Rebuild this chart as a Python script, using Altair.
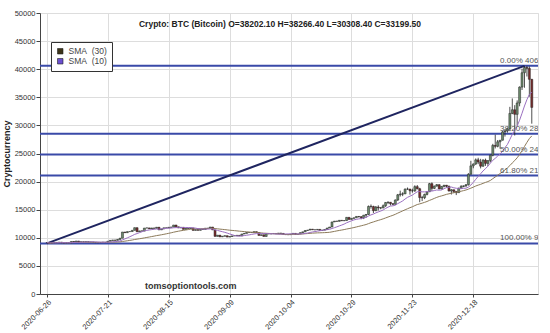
import altair as alt
import pandas as pd

# ---------------- data ----------------
start_date = "2020-06-26"
end_date = "2021-01-11"
first_open = 9140.0

closes = [
    # Jun 26-30
    9150, 9010, 9120, 9180, 9140,
    # Jul
    9230, 9090, 9060, 9130, 9070, 9340, 9250, 9430, 9230, 9290, 9240, 9300, 9240, 9250, 9200, 9130,
    9150, 9170, 9210, 9160, 9390, 9540, 9610, 9550, 9710, 9930, 11030, 10910, 11100, 11110, 11330,
    # Aug
    11800, 11070, 11230, 11190, 11740, 11760, 11600, 11750, 11680, 11880, 11410, 11580, 11780, 11770,
    11870, 11910, 12280, 11960, 11760, 11870, 11500, 11680, 11650, 11750, 11320, 11460, 11330, 11530,
    11480, 11710, 11680,
    # Sep
    11920, 11400, 10250, 10470, 10170, 10280, 10370, 10130, 10230, 10340, 10380, 10440, 10330, 10680,
    10790, 10950, 10940, 10930, 11090, 10920, 10420, 10540, 10240, 10740, 10690, 10730, 10770, 10710,
    10840, 10780,
    # Oct
    10620, 10570, 10550, 10670, 10790, 10600, 10670, 10920, 11060, 11300, 11380, 11540, 11430, 11430,
    11500, 11320, 11360, 11480, 11740, 11920, 12820, 12970, 12930, 13110, 13030, 13070, 13640, 13270,
    13460, 13560, 13800,
    # Nov
    13760, 13550, 14030, 14150, 15590, 15580, 14830, 15480, 15330, 15300, 15700, 16290, 16330, 16070,
    15960, 16730, 17650, 17780, 17820, 18660, 18680, 18370, 18360, 19100, 18730, 17150, 17140, 17720,
    18180, 19630,
    # Dec
    18800, 19200, 19450, 18700, 19150, 19360, 19170, 18320, 18550, 18250, 18030, 18800, 19140, 19250,
    19440, 21310, 22800, 23130, 23870, 23480, 22740, 23820, 23240, 23730, 24710, 26440, 26280, 27080,
    27360, 28840, 29000,
    # Jan 1-11
    29370, 32130, 32780, 31970, 33990, 36820, 39370, 40300, 40150, 38202.1, 33199.5,
]

# highs / lows read from 2020-11-01 onwards (wicks visible at this scale)
late_start = "2020-11-01"
late_high = [
    13860, 13820, 14060, 14230, 15740, 15930, 15700, 15650, 15780, 15450, 15930, 16330, 16480, 16300,
    16120, 16820, 17800, 18390, 18100, 18780, 18950, 18690, 18750, 19350, 19390, 18900, 17460, 17850,
    18280, 19760,
    19860, 19290, 19560, 19500, 19160, 19390, 19400, 19280, 18640, 18560, 18270, 18930, 19380, 19300,
    19540, 21500, 23700, 23230, 24120, 24240, 24050, 23990, 24090, 23810, 24780, 26720, 28350, 27400,
    27370, 28990, 29300,
    29600, 33300, 34800, 33600, 34450, 36940, 40100, 40600, 40600, 40500, 38266.4,
]
late_low = [
    13620, 13290, 13330, 13560, 14090, 15190, 14400, 14740, 14850, 15080, 15280, 15500, 15990, 15750,
    15800, 15870, 16560, 17340, 17410, 17780, 18540, 17680, 18030, 18170, 18620, 16330, 16540, 16880,
    17550, 18180,
    18330, 18660, 19120, 18620, 18600, 18970, 18940, 18260, 17700, 17930, 17600, 18000, 18750, 19000,
    19060, 19300, 21250, 22370, 22970, 23100, 22350, 22650, 22800, 22750, 23440, 24500, 25900, 26100,
    25850, 27330, 28010,
    28700, 28980, 32000, 28200, 30000, 33400, 36300, 36700, 38700, 35100, 30308.4,
]

fib_high = 40600.0
fib_low = 9000.0
fib_ratios = [0.0, 0.382, 0.5, 0.618, 1.0]
fib_label_date = "2020-12-29"

trend_dates = ["2020-06-26", "2021-01-08"]
trend_values = [9000, 40600]

tick_dates = ["2020-06-26", "2020-07-21", "2020-08-15", "2020-09-09",
              "2020-10-04", "2020-10-29", "2020-11-23", "2020-12-18"]

sma_keys = ["sma30", "sma10"]
sma_names = ["SMA\u00a0\u00a0(30)", "SMA\u00a0\u00a0(10)"]
sma_colors_line = ["#8c7a5a", "#9a6fc0"]
sma_colors_legend = ["#3d3418", "#6b4fd0"]

title_text = "Crypto: BTC (Bitcoin) O=38202.10 H=38266.40 L=30308.40 C=33199.50"
watermark = "tomsoptiontools.com"
watermark_date = "2020-08-24"
watermark_value = 1500

# ---------------- tables ----------------
dates = pd.date_range(start_date, end_date, freq="D")
assert len(dates) == len(closes)
opens = [first_open] + closes[:-1]
late_idx = list(dates).index(pd.Timestamp(late_start))
highs, lows = [], []
for i, (o, c) in enumerate(zip(opens, closes)):
    if i >= late_idx:
        highs.append(max(late_high[i - late_idx], o, c))
        lows.append(min(late_low[i - late_idx], o, c))
    else:
        highs.append(max(o, c))
        lows.append(min(o, c))

candles = pd.DataFrame({
    "date": dates.strftime("%Y-%m-%d"),
    "open": opens, "high": highs, "low": lows, "close": closes,
})
candles["dir"] = ["up" if c >= o else "down" for o, c in zip(opens, closes)]

fib = pd.DataFrame({"ratio": fib_ratios})
fib["level"] = fib_high - fib["ratio"] * (fib_high - fib_low)
fib["label"] = [f"{r*100:.2f}% {lv:.2f}" for r, lv in zip(fib["ratio"], fib["level"])]
fib["date"] = fib_label_date

trend = pd.DataFrame({"date": trend_dates, "value": trend_values})
wm = pd.DataFrame({"date": [watermark_date], "value": [watermark_value], "text": [watermark]})
legend_df = pd.DataFrame({"series": sma_names, "date": [start_date] * 2, "value": [0, 0]})


def dt(s, h=0):
    t = pd.Timestamp(s)
    return alt.DateTime(year=t.year, month=t.month, date=t.day, hours=h, utc=True)


FONT = "Liberation Sans"
xscale = alt.Scale(type="utc", domain=[dt("2020-06-25", 5), dt("2021-01-11", 12)])
yscale = alt.Scale(domain=[0, 50000])

xaxis = alt.Axis(values=[dt(d) for d in tick_dates],
                 labelExpr="utcFormat(datum.value, '%Y-%m-%d')",
                 labelAngle=-45, labelFontSize=7.5, labelColor="#333", labelFont=FONT,
                 grid=True, gridColor="#dddddd", tickColor="#444", tickSize=3,
                 domainColor="#444", title=None, labelPadding=1)
yaxis = alt.Axis(values=list(range(0, 50001, 5000)), format="d", labelFontSize=7.5,
                 labelColor="#333", labelFont=FONT, grid=True, gridColor="#dddddd",
                 tickColor="#444", tickSize=4, domainColor="#444", title="Cryptocurrency",
                 titleFontSize=9, titleFont=FONT, titleFontWeight="bold", titleColor="#222",
                 titlePadding=3, labelPadding=1)


def X(field="date"):
    return alt.X(f"{field}:T", scale=xscale, axis=xaxis)


def Y(field):
    return alt.Y(f"{field}:Q", scale=yscale, axis=yaxis)


fib_lines = alt.Chart(fib).mark_rule(color="#3a4aa8", strokeWidth=2).encode(y=Y("level"))

fib_text = alt.Chart(fib).mark_text(align="left", baseline="bottom", dy=-1, fontSize=8,
                                    font=FONT, color="#555", clip=True).encode(
    x=X(), y=Y("level"), text="label:N")

trend_line = alt.Chart(trend).mark_line(color="#1f2560", strokeWidth=2, clip=True).encode(
    x=X(), y=Y("value"))

wicks = alt.Chart(candles).mark_rule(color="#222", strokeWidth=0.8, clip=True).encode(
    x=X(), y=Y("low"), y2="high:Q")

bodies = alt.Chart(candles).mark_bar(size=2, stroke="#222", strokeWidth=0.5, clip=True).encode(
    x=X(), y=Y("open"), y2="close:Q",
    fill=alt.Fill("dir:N", scale=alt.Scale(domain=["up", "down"], range=["#6e8c6e", "#7a2c2c"]),
                  legend=None))

sma = alt.Chart(candles).transform_window(
    sma30="mean(close)", frame=[-29, 0], sort=[alt.SortField("date")]
).transform_window(
    sma10="mean(close)", frame=[-9, 0], sort=[alt.SortField("date")]
).transform_fold(sma_keys, as_=["key", "value"]).mark_line(strokeWidth=1, clip=True).encode(
    x=X(), y=Y("value"),
    stroke=alt.Stroke("key:N", scale=alt.Scale(domain=sma_keys, range=sma_colors_line),
                      legend=None),
    detail="key:N")

legend_layer = alt.Chart(legend_df).mark_square(filled=True, size=0, opacity=1).encode(
    x=X(), y=Y("value"),
    color=alt.Color("series:N", scale=alt.Scale(domain=sma_names, range=sma_colors_legend),
                    legend=alt.Legend(orient="none", legendX=11, legendY=29, title=None,
                                      fillColor="white", strokeColor="#333", padding=5,
                                      symbolType="square", symbolSize=30, symbolStrokeColor="#222",
                                      symbolStrokeWidth=0.6, symbolOpacity=1, labelFontSize=8.5,
                                      labelFont=FONT, labelColor="#444", rowPadding=1,
                                      labelOffset=4, cornerRadius=0)))

wm_text = alt.Chart(wm).mark_text(fontSize=9, fontWeight="bold", font=FONT, color="#333").encode(
    x=X(), y=Y("value"), text="text:N")

chart = alt.layer(fib_lines, trend_line, wicks, bodies, sma, fib_text, wm_text,
                  legend_layer).properties(
    width=498, height=281,
    title=alt.TitleParams(title_text, fontSize=8.5, font=FONT, fontWeight="bold", color="#222",
                          anchor="middle", dx=-9, dy=19, offset=0),
    padding={"left": 40, "top": 13, "right": 12, "bottom": 39},
    autosize=alt.AutoSizeParams(type="none"),
).configure_view(stroke="#444", strokeWidth=1).configure(background="white")

chart.save("out.html", embed_options={"renderer": "svg", "actions": False})
